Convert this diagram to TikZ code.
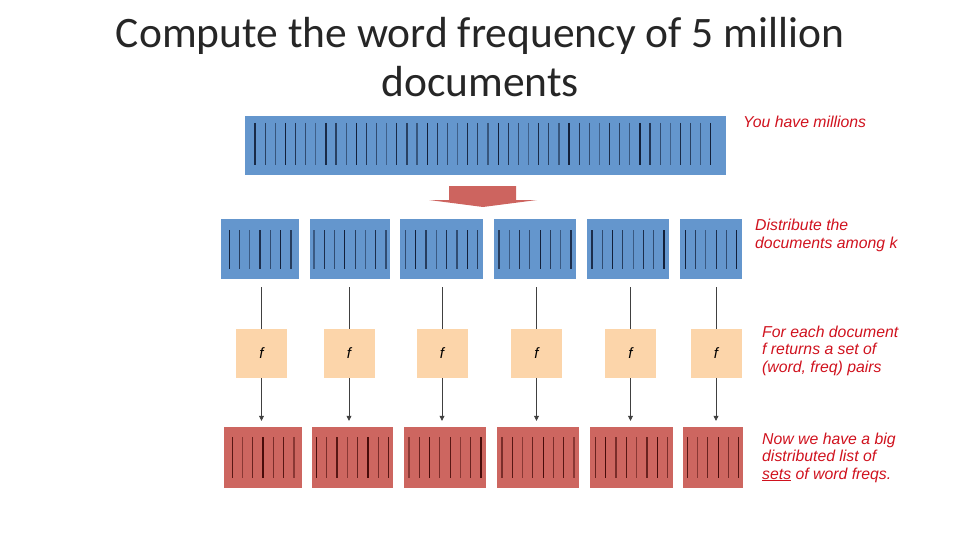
\documentclass[tikz,border=0pt]{standalone}
\usepackage{fontspec}
\setmainfont{Liberation Sans}
\newfontfamily\titlefont{Carlito}
\usetikzlibrary{arrows.meta}

\definecolor{docblue}{RGB}{100,150,205}
\definecolor{blueline}{RGB}{18,32,58}
\definecolor{docred}{RGB}{205,102,96}
\definecolor{redline}{RGB}{72,12,10}
\definecolor{fpeach}{RGB}{252,213,170}
\definecolor{notered}{RGB}{208,18,30}
\definecolor{bigarrow}{RGB}{205,100,95}

\begin{document}
\begin{tikzpicture}[x=1pt, y=-1pt,
  docb/.style={rectangle, fill=docblue, inner sep=0pt},
  docr/.style={rectangle, fill=docred, inner sep=0pt},
  fbox/.style={rectangle, fill=fpeach, minimum width=51pt, minimum height=49pt, inner sep=0pt,
    font=\itshape\fontsize{15}{15}\selectfont},
  bline/.style={draw=blueline, line width=1.2pt},
  rline/.style={draw=redline, line width=1.2pt},
  feed/.style={draw=black!75, line width=0.7pt},
  note/.style={anchor=base west, inner sep=0pt, align=left, text=notered,
    font=\itshape\fontsize{15.8}{17.5}\selectfont}
]
  \useasboundingbox (0,0) rectangle (960,540);

  % ===== title (base = last line) =====
  \node[anchor=base, align=center, inner sep=0pt, text=black!85,
    font=\titlefont\fontsize{43.5}{49}\selectfont]
    (title) at (480,97) {Compute the word frequency of 5 million\\documents};

  % ===== all documents =====
  \node[docb, minimum width=481pt, minimum height=59pt] (all) at (485.5,145.5) {};
  \foreach \k in {1,...,46}{
    \pgfmathsetmacro\op{0.45+0.55*mod(\k*5,7)/6}
    \draw[bline, draw opacity=\op] ({255+(\k-1)*10.13},123) -- ++(0,42);
  }
  \node[note] (millions) at (743,128) {You have millions};

  % big red arrow
  \fill[bigarrow] (449,186) -- (516,186) -- (516,200) -- (537,200) -- (483,207)
    -- (429,200) -- (449,200) -- cycle;

  % ===== k chunks =====
  \foreach \xa/\xb/\n [count=\i] in {221/299/7, 310/390/8, 400/483/8, 494/576/8, 587/669/8, 680/742/6}{
    \node[docb, minimum width={(\xb-\xa)*1pt}, minimum height=60pt] (m\i) at ({(\xa+\xb)/2},249) {};
    \foreach \k in {1,...,\n}{
      \pgfmathsetmacro\op{0.5+0.5*mod(\k*3+\i,5)/4}
      \draw[bline, draw opacity=\op] ({(\xa+\xb)/2+(\k-(\n+1)/2)*10.3},230) -- ++(0,39);
    }
  }
  \node[note] (distr) at (755,248) {Distribute the\\documents among k};

  % ===== f boxes =====
  \foreach \xa/\xb [count=\i] in {236/287, 324/374, 417/467, 511/562, 605/656, 690/742}{
    \node[fbox] (f\i) at ({(\xa+\xb)/2},353.5) {f};
  }
  \node[note] (each) at (762,372) {For each document\\f returns a set of\\(word, freq) pairs};

  % ===== word freq sets =====
  \foreach \xa/\xb/\n [count=\i] in {224/302/7, 312/393/8, 404/486/8, 497/579/8, 590/673/8, 683/743/6}{
    \node[docr, minimum width={(\xb-\xa)*1pt}, minimum height=61pt] (r\i) at ({(\xa+\xb)/2},457.5) {};
    \foreach \k in {1,...,\n}{
      \pgfmathsetmacro\op{0.5+0.5*mod(\k*2+\i,5)/4}
      \draw[rline, draw opacity=\op] ({(\xa+\xb)/2+(\k-(\n+1)/2)*10.3},437) -- ++(0,41);
    }
  }
  \node[note] (now) at (762,479) {Now we have a big\\distributed list of\\\underline{sets} of word freqs.};

  % ===== connectors =====
  \foreach \i in {1,...,6}{
    \draw[feed, shorten <=8pt] (m\i.south -| f\i) -- (f\i.north);
    \draw[feed, shorten >=6pt, -{Triangle[width=5pt, length=5pt]}] (f\i.south) -- (r\i.north -| f\i);
  }
\end{tikzpicture}
\end{document}
